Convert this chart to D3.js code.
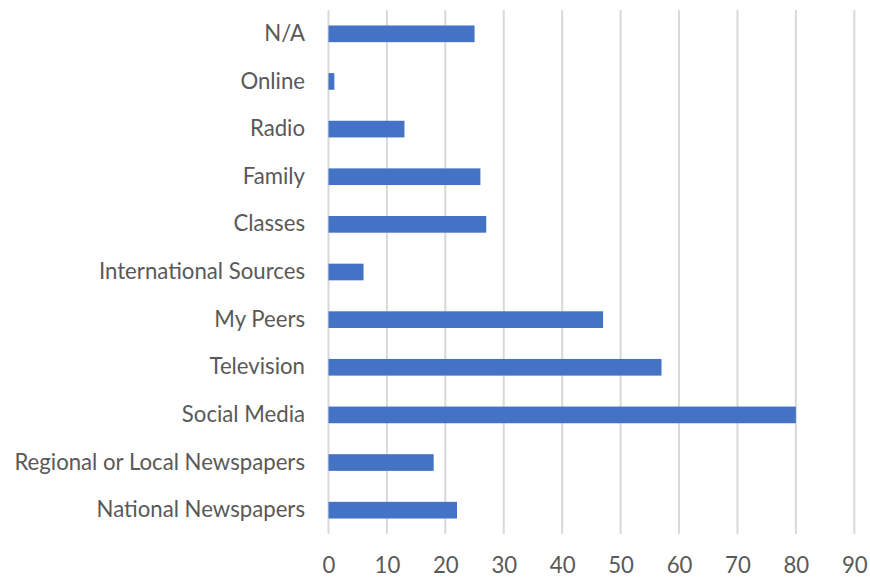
<!DOCTYPE html>
<html>
<head>
<meta charset="utf-8">
<script src="https://cdn.jsdelivr.net/npm/d3@7"></script>
<style>
  html, body { margin: 0; padding: 0; background: #fff; }
  svg { display: block; }
  text { font-family: Lato, "Open Sans", sans-serif; fill: #595959; }
</style>
</head>
<body>
<svg id="chart" width="870" height="577"></svg>
<script>
// Categories listed bottom to top as they appear on the axis
const categories = [
  "National Newspapers",
  "Regional or Local Newspapers",
  "Social Media",
  "Television",
  "My Peers",
  "International Sources",
  "Classes",
  "Family",
  "Radio",
  "Online",
  "N/A"
];
const counts = [22, 18, 80, 57, 47, 6, 27, 26, 13, 1, 25];
const xTicks = [0, 10, 20, 30, 40, 50, 60, 70, 80, 90];

const svg = d3.select("#chart");
const plot = { left: 328.5, right: 854.3, top: 10, bottom: 534 };
const fontSize = "22.2px";

const x = d3.scaleLinear().domain([0, 90]).range([plot.left, plot.right]);
// top category first in the band order so "N/A" sits at the top
const y = d3.scaleBand()
  .domain(categories.slice().reverse())
  .range([plot.top, plot.bottom])
  .paddingInner(0.65)
  .paddingOuter(0.325);

const data = categories.map((c, i) => ({ cat: c, value: counts[i] }));

// vertical gridlines
svg.append("g")
  .selectAll("line")
  .data(xTicks)
  .join("line")
  .attr("x1", d => x(d)).attr("x2", d => x(d))
  .attr("y1", plot.top).attr("y2", plot.bottom)
  .attr("stroke", "#d9d9d9")
  .attr("stroke-width", 2);

// bars
svg.append("g")
  .selectAll("rect")
  .data(data)
  .join("rect")
  .attr("x", x(0))
  .attr("y", d => y(d.cat))
  .attr("width", d => x(d.value) - x(0))
  .attr("height", y.bandwidth())
  .attr("fill", "#4472c4");

// x axis tick labels
const xAxis = d3.axisBottom(x).tickValues(xTicks).tickSize(0).tickPadding(0);
const gx = svg.append("g")
  .attr("transform", `translate(0, ${plot.bottom + 31})`)
  .call(xAxis);
gx.select(".domain").remove();
gx.selectAll("text")
  .attr("dy", "0.35em")
  .attr("y", 0)
  .style("font-size", fontSize)
  .style("font-family", "Lato, 'Open Sans', sans-serif")
  .attr("fill", "#595959");

// category labels
const yAxis = d3.axisLeft(y).tickSize(0).tickPadding(0);
const gy = svg.append("g")
  .attr("transform", `translate(${305}, 0)`)
  .call(yAxis);
gy.select(".domain").remove();
gy.selectAll("text")
  .style("font-size", fontSize)
  .style("font-family", "Lato, 'Open Sans', sans-serif")
  .attr("fill", "#595959");
</script>
</body>
</html>
